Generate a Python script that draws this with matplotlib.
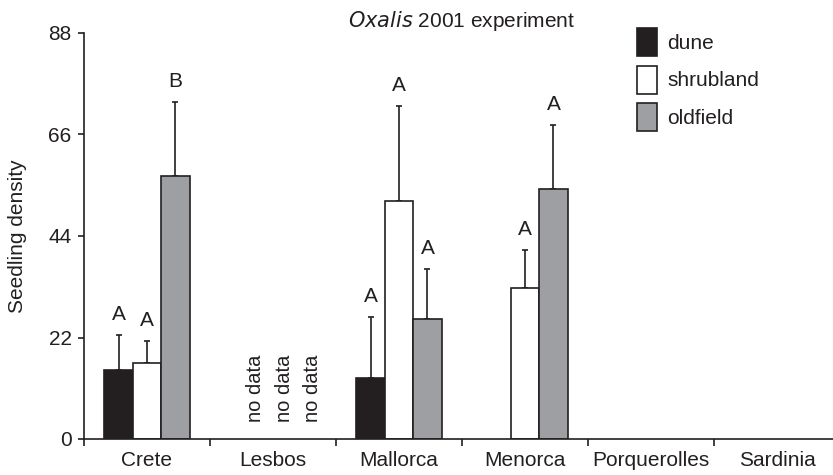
import numpy as np
import matplotlib
matplotlib.use('Agg')
from matplotlib import pyplot as plt

plt.rcParams['font.family'] = ['Liberation Sans', 'DejaVu Sans']

# data
sites = ['Crete', 'Lesbos', 'Mallorca', 'Menorca', 'Porquerolles', 'Sardinia']
habitats = ['dune', 'shrubland', 'oldfield']
nan = np.nan
dune = [15.0, nan, 13.3, nan, nan, nan]
dune_err = [7.5, nan, 13.2, nan, nan, nan]
shrub = [16.4, nan, 51.6, 32.7, nan, nan]
shrub_err = [4.8, nan, 20.6, 8.2, nan, nan]
old = [57.0, nan, 26.0, 54.2, nan, nan]
old_err = [16.0, nan, 10.9, 13.9, nan, nan]
dune_let = ['A', '', 'A', '', '', '']
shrub_let = ['A', '', 'A', 'A', '', '']
old_let = ['B', '', 'A', 'A', '', '']
no_data_site = 'Lesbos'
yticks = [0, 22, 44, 66, 88]

ink = '#231f20'
colors = [ink, 'white', '#9d9fa2']

fig = plt.figure(figsize=(8.33, 4.75), dpi=100)
ax = fig.add_axes([84/833, 36/475, 756/833, 406/475])

w = 0.226
centers = np.arange(len(sites)) + 0.5
series = [(dune, dune_err, dune_let), (shrub, shrub_err, shrub_let), (old, old_err, old_let)]
for k, (vals, errs, lets) in enumerate(series):
    x = centers + (k - 1) * w
    vals = np.array(vals)
    errs = np.array(errs)
    ax.bar(x, vals, width=w, color=colors[k], edgecolor=ink, linewidth=1.2,
           label=habitats[k], zorder=2)
    ax.errorbar(x, vals, yerr=[np.zeros_like(errs), errs], fmt='none',
                ecolor=ink, elinewidth=1.2, capsize=2.3, capthick=1.2, zorder=1)
    for xi, v, e, t in zip(x, vals, errs, lets):
        if t:
            ax.annotate(t, (xi, v + e), xytext=(0, 8), textcoords='offset points',
                        ha='center', va='bottom', fontsize=15, color=ink)

# no data labels
i = sites.index(no_data_site)
for k in range(3):
    ax.annotate('no data', (centers[i] + (k - 1) * w, 3.7), xytext=(8, 0),
                textcoords='offset points', rotation=90, ha='center', va='bottom',
                fontsize=14.5, color=ink)

ax.set_xlim(0, len(sites))
ax.set_ylim(0, 88)
ax.set_yticks(yticks)
ax.set_xticks(centers)
ax.set_xticklabels(sites)
ax.set_xticks(np.arange(len(sites) + 1), minor=True)
ax.tick_params(axis='x', which='major', length=0, pad=9, labelsize=15, colors=ink)
ax.tick_params(axis='x', which='minor', length=5, width=1.2, color=ink)
ax.tick_params(axis='y', length=4, width=1.2, pad=5, labelsize=15, colors=ink)
for s in ['top', 'right']:
    ax.spines[s].set_visible(False)
for s in ['left', 'bottom']:
    ax.spines[s].set_linewidth(1.2)
    ax.spines[s].set_color(ink)

ax.set_ylabel('Seedling density', fontsize=15, color=ink)
ax.yaxis.set_label_coords(-0.075, 0.5)

fig.text(462/833, 1 - 21/475, r'$\it{Oxalis}$ 2001 experiment', ha='center', va='center',
         fontsize=15, color=ink)

ax.legend(loc='upper left', bbox_to_anchor=(637/833, 1 - 28/475),
          bbox_transform=fig.transFigure, frameon=False, fontsize=15,
          borderpad=0, borderaxespad=0, handlelength=0.96, handleheight=1.7,
          handletextpad=0.5, labelspacing=0.45, labelcolor=ink)

fig.savefig('out.png', dpi=100)
